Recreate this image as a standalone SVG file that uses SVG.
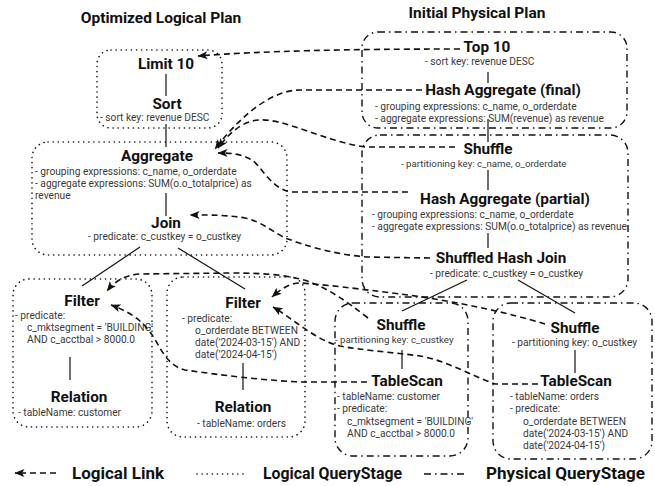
<svg xmlns="http://www.w3.org/2000/svg" width="655" height="486" viewBox="0 0 655 486">
<defs>
<style>
.h{font-family:Roboto,"Liberation Sans",sans-serif;font-weight:700;font-size:15.3px;fill:#111;text-anchor:middle}
.ti{font-family:Roboto,"Liberation Sans",sans-serif;font-weight:700;font-size:15.5px;fill:#111;text-anchor:middle}
.lg{font-family:Roboto,"Liberation Sans",sans-serif;font-weight:700;font-size:16px;fill:#111}
.s{font-family:Roboto,"Liberation Sans",sans-serif;font-size:10.2px;fill:#3a3a3a}
.sp{font-family:Roboto,"Liberation Sans",sans-serif;font-size:9.7px;fill:#3a3a3a}
.ls{fill:none;stroke:#111;stroke-width:1.2}
.ll{fill:none;stroke:#111;stroke-width:1.6;stroke-dasharray:6 4}
.lstage{fill:none;stroke:#111;stroke-width:1.6;stroke-dasharray:0.1 5;stroke-linecap:round}
.pstage{fill:none;stroke:#111;stroke-width:1.4;stroke-dasharray:7 4 1.5 4}
</style>
<marker id="arr" viewBox="0 0 10 8" refX="9.5" refY="4" markerWidth="10" markerHeight="8" markerUnits="userSpaceOnUse" orient="auto">
<path d="M0,0 L10,4 L0,8 L2.5,4 z" fill="#111"/>
</marker>
</defs>
<rect width="655" height="486" fill="#fff"/>

<text class="ti" x="161" y="23">Optimized Logical Plan</text>
<text class="ti" x="477" y="18">Initial Physical Plan</text>

<!-- stages -->
<g id="lstage1"><rect class="lstage" x="97" y="50" width="125" height="78" rx="14"/></g>
<g id="lstage2"><rect class="lstage" x="32" y="142" width="255" height="113" rx="16"/></g>
<g id="lstage3"><rect class="lstage" x="13" y="279" width="139" height="148" rx="16"/></g>
<g id="lstage4"><rect class="lstage" x="167" y="277" width="138" height="160" rx="16"/></g>
<g id="pstage1"><rect class="pstage" x="362" y="32" width="265" height="96" rx="16"/></g>
<g id="pstage2"><rect class="pstage" x="362" y="135" width="266" height="162" rx="18"/></g>
<g id="pstage3"><rect class="pstage" x="335" y="303" width="133" height="153" rx="18"/></g>
<g id="pstage4"><rect class="pstage" x="493" y="303" width="159" height="156" rx="18"/></g>

<!-- logical nodes -->
<g id="limit"><text class="h" x="166" y="69">Limit 10</text></g>
<g id="sort"><text class="h" x="167" y="109">Sort</text>
<text class="s" x="100" y="121">- sort key: revenue DESC</text></g>
<g id="aggregate"><text class="h" x="157" y="161">Aggregate</text>
<text class="s" x="35" y="175">- grouping expressions: c_name, o_orderdate</text>
<text class="s" x="35" y="187">- aggregate expressions: SUM(o.o_totalprice) as</text>
<text class="s" x="35" y="199">revenue</text></g>
<g id="join"><text class="h" x="166" y="228">Join</text>
<text class="s" x="88" y="240">- predicate: c_custkey = o_custkey</text></g>
<g id="filter1"><text class="h" x="82" y="306">Filter</text>
<text class="s" x="15" y="319">- predicate:</text>
<text class="s" x="27" y="331">c_mktsegment = 'BUILDING'</text>
<text class="s" x="27" y="343">AND c_acctbal &gt; 8000.0</text></g>
<g id="relation1"><text class="h" x="79" y="402">Relation</text>
<text class="s" x="18" y="416">- tableName: customer</text></g>
<g id="filter2"><text class="h" x="243" y="308">Filter</text>
<text class="s" x="182" y="322">- predicate:</text>
<text class="s" x="195" y="334">o_orderdate BETWEEN</text>
<text class="s" x="195" y="346">date('2024-03-15') AND</text>
<text class="s" x="195" y="358">date('2024-04-15')</text></g>
<g id="relation2"><text class="h" x="243" y="412">Relation</text>
<text class="s" x="197" y="427">- tableName: orders</text></g>

<!-- physical nodes -->
<g id="top10"><text class="h" x="487" y="52">Top 10</text>
<text class="s" x="425" y="65">- sort key: revenue DESC</text></g>
<g id="hashaggfinal"><text class="h" x="503" y="95">Hash Aggregate (final)</text>
<text class="s" x="375" y="110">- grouping expressions: c_name, o_orderdate</text>
<text class="s" x="375" y="122">- aggregate expressions: SUM(revenue) as revenue</text></g>
<g id="shuffle0"><text class="h" x="488" y="154">Shuffle</text>
<text class="sp" x="401" y="167">- partitioning key: c_name, o_orderdate</text></g>
<g id="hashaggpartial"><text class="h" x="505" y="204">Hash Aggregate (partial)</text>
<text class="s" x="372" y="218">- grouping expressions: c_name, o_orderdate</text>
<text class="s" x="372" y="230">- aggregate expressions: SUM(o.o_totalprice) as revenue</text></g>
<g id="shj"><text class="h" x="501" y="263">Shuffled Hash Join</text>
<text class="s" x="430" y="277">- predicate: c_custkey = o_custkey</text></g>
<g id="shuffle1"><text class="h" x="401" y="330">Shuffle</text>
<text class="sp" x="335" y="343">- partitioning key: c_custkey</text></g>
<g id="tablescan1"><text class="h" x="407" y="386">TableScan</text>
<text class="s" x="337" y="400">- tableName: customer</text>
<text class="s" x="337" y="412">- predicate:</text>
<text class="s" x="347" y="425">c_mktsegment = 'BUILDING'</text>
<text class="s" x="347" y="437">AND c_acctbal &gt; 8000.0</text></g>
<g id="shuffle2"><text class="h" x="575" y="333">Shuffle</text>
<text class="s" x="512" y="346">- partitioning key: o_custkey</text></g>
<g id="tablescan2"><text class="h" x="576" y="386">TableScan</text>
<text class="s" x="510" y="400">- tableName: orders</text>
<text class="s" x="510" y="412">- predicate:</text>
<text class="s" x="523" y="425">o_orderdate BETWEEN</text>
<text class="s" x="523" y="437">date('2024-03-15') AND</text>
<text class="s" x="523" y="449">date('2024-04-15')</text></g>

<!-- connectors -->
<g id="connectors">
<g id="tree-edges">
<path class="ls" d="M166,74 V96"/>
<path class="ls" d="M166,124 V147"/>
<path class="ls" d="M166,193 V216"/>
<path class="ls" d="M140,247 L82,286"/>
<path class="ls" d="M178,248 L245,289"/>
<path class="ls" d="M70,357 V380"/>
<path class="ls" d="M243,363 V390"/>
<path class="ls" d="M488,72 V83"/>
<path class="ls" d="M488,119 V142"/>
<path class="ls" d="M488,170 V190"/>
<path class="ls" d="M488,233 V248"/>
<path class="ls" d="M467,280 L402,311"/>
<path class="ls" d="M518,280 L575,313"/>
<path class="ls" d="M402,350 V369"/>
<path class="ls" d="M575,350 V373"/>
</g>
<g id="logical-links">
<path class="ll" marker-end="url(#arr)" d="M460,49 C350,49 260,51 198,56"/>
<path class="ll" marker-end="url(#arr)" d="M422,90 L300,90 C275,90 245,110 215,149"/>
<path class="ll" marker-end="url(#arr)" d="M455,147 L365,147 C320,140 285,118 258,120 C240,122 228,135 218,148"/>
<path class="ll" marker-end="url(#arr)" d="M408,192 L292,192 C272,190 262,167 252,160 C242,154 232,153 218,153"/>
<path class="ll" marker-end="url(#arr)" d="M430,258 L367,257 C330,254 305,245 285,238 C270,230 262,222 245,218 C228,215 212,215 190,215"/>
<path class="ll" marker-end="url(#arr)" d="M368,318 C345,300 330,290 310,282 C290,275 265,273 230,273 L140,274 C125,275 115,281 107,291"/>
<path class="ll" marker-end="url(#arr)" d="M545,324 C510,313 450,300 400,294 C360,289 320,284 300,283 C290,283 281,289 272,297"/>
<path class="ll" marker-end="url(#arr)" d="M367,382 L300,382 C260,380 220,375 185,370 C165,365 160,345 150,332 C140,318 125,310 111,305"/>
<path class="ll" marker-end="url(#arr)" d="M538,384 L495,384 C470,375 445,360 420,356 C390,352 360,350 340,346 C315,340 295,320 273,307"/>
</g>
</g>

<!-- legend -->
<g id="legend">
<path class="ll" marker-end="url(#arr)" d="M56,473 L15,473"/>
<text class="lg" x="72" y="479" textLength="92" lengthAdjust="spacingAndGlyphs">Logical Link</text>
<path class="lstage" d="M197,474 H247"/>
<text class="lg" x="263" y="479" textLength="139" lengthAdjust="spacingAndGlyphs">Logical QueryStage</text>
<path class="pstage" d="M424,474 H468"/>
<text class="lg" x="486" y="479" textLength="159" lengthAdjust="spacingAndGlyphs">Physical QueryStage</text>
</g>
</svg>
